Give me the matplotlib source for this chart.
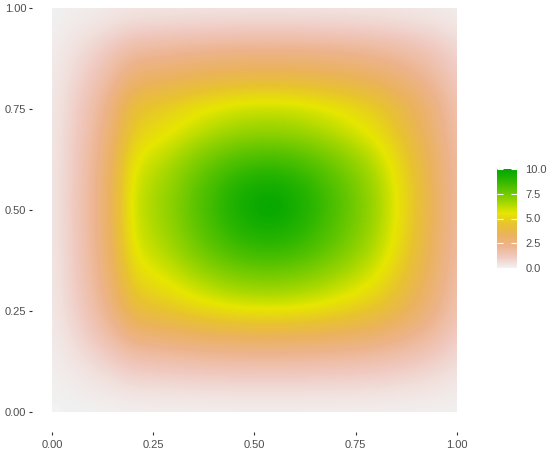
import numpy as np
import matplotlib
matplotlib.use("Agg")
import matplotlib.pyplot as plt
from matplotlib.colors import LinearSegmentedColormap
from matplotlib.patches import Rectangle

# Sample positions (data units) for the two profiles
grid_pos = [0.00, 0.05, 0.10, 0.15, 0.20, 0.25, 0.30, 0.35, 0.40, 0.45, 0.50,
            0.55, 0.60, 0.65, 0.70, 0.75, 0.80, 0.85, 0.90, 0.95, 1.00]
# value profile along x at y = 0.5
row_x = [0.3, 1.0, 2.0, 3.5, 5.9, 6.5, 7.1, 7.9, 8.6, 9.3, 9.8,
         10.0, 9.5, 8.9, 8.2, 7.5, 6.7, 5.6, 4.4, 3.2, 1.8]
# value profile along y at x = 0.5
col_y = [0.1, 0.5, 1.2, 2.3, 3.8, 5.4, 6.6, 7.6, 8.6, 9.3, 9.9,
         9.6, 8.8, 7.8, 6.7, 6.0, 4.6, 3.3, 2.2, 1.0, 0.4]
peak = 10.0
tick_vals = [0.00, 0.25, 0.50, 0.75, 1.00]
tick_labels = ["0.00", "0.25", "0.50", "0.75", "1.00"]
cbar_ticks = [0.0, 2.5, 5.0, 7.5, 10.0]
cbar_labels = ["0.0", "2.5", "5.0", "7.5", "10.0"]

# reversed terrain.colors(10)
terrain_rev = ["#F2F2F2", "#F0C9C0", "#EDB48E", "#EBB25E", "#E8C32E",
               "#E6E600", "#A0D600", "#63C600", "#2DB600", "#00A600"]
cmap = LinearSegmentedColormap.from_list("terrain_rev", terrain_rev, N=256)

# field table built from the two read profiles (rounded contours)
p = 1.4
a = -np.log(np.array(row_x) / peak)
b = -np.log(np.array(col_y) / col_y[10])
A, B = np.meshgrid(np.clip(a, 0, None), np.clip(b, 0, None))
Z = peak * np.exp(-(A ** p + B ** p) ** (1 / p))

plt.rcParams['font.family'] = ['Liberation Sans', 'DejaVu Sans']
fig = plt.figure(figsize=(5.5, 4.54), dpi=100)
fig.patch.set_facecolor("white")

ax = fig.add_axes([32 / 550, 22 / 454, 445 / 550, 444.4 / 454])
half = (grid_pos[1] - grid_pos[0]) / 2
im = ax.imshow(Z, origin="lower", cmap=cmap, vmin=0, vmax=10,
               extent=[grid_pos[0] - half, grid_pos[-1] + half,
                       grid_pos[0] - half, grid_pos[-1] + half],
               interpolation="bicubic", aspect="auto")
im.set_clip_path(Rectangle((0, 0), 1, 1, transform=ax.transData))
ax.set_xlim(-0.05, 1.05)
ax.set_ylim(-0.05, 1.05)
for s in ax.spines.values():
    s.set_visible(False)
ax.set_xticks(tick_vals)
ax.set_xticklabels(tick_labels)
ax.set_yticks(tick_vals)
ax.set_yticklabels(tick_labels)
ax.tick_params(axis="both", length=2.5, width=0.8, color="#333333",
               labelcolor="#4D4D4D", labelsize=8)
ax.tick_params(axis="x", pad=3)
ax.tick_params(axis="y", pad=1.5)

cax = fig.add_axes([497 / 550, (454 - 268) / 454, 20 / 550, 99 / 454])
cb = fig.colorbar(im, cax=cax)
cb.outline.set_visible(False)
cb.set_ticks(cbar_ticks)
cb.set_ticklabels(cbar_labels)
cax.tick_params(direction="in", color="white", length=4, width=0.8,
                left=True, right=True, labelleft=False, labelright=True,
                labelcolor="#4D4D4D", labelsize=8, pad=6)

fig.savefig("out.png", dpi=100)
